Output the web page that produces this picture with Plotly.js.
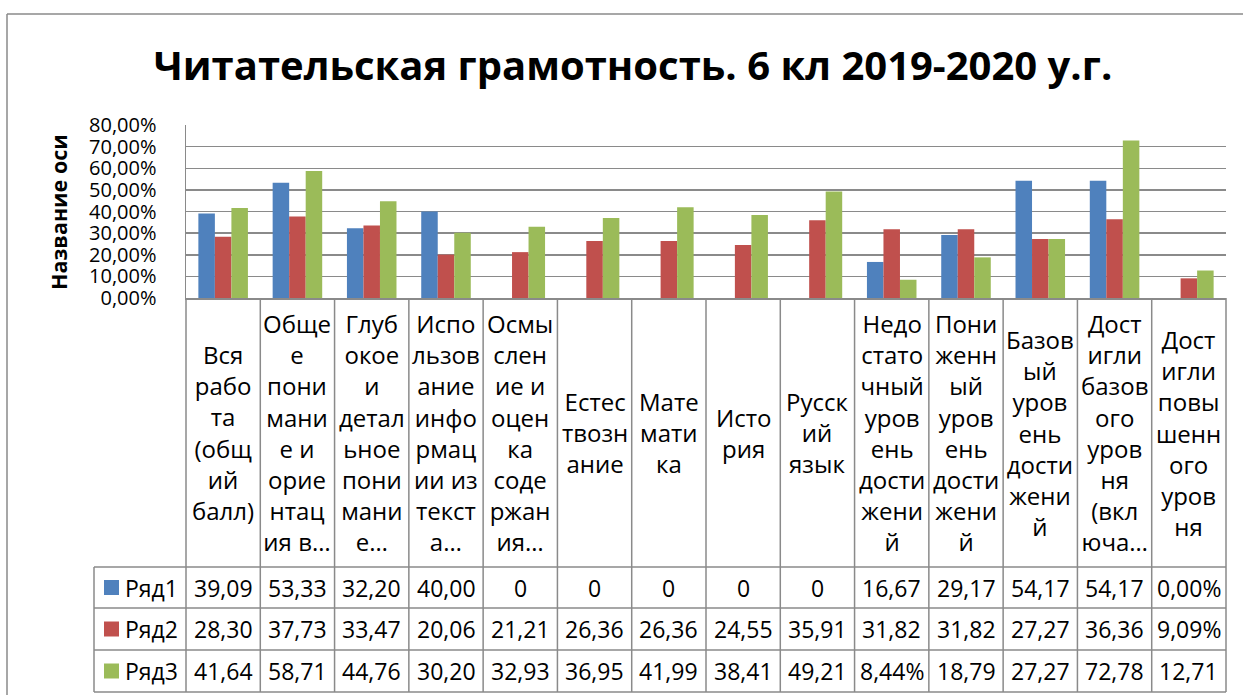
<!DOCTYPE html>
<html>
<head>
<meta charset="utf-8">
<script src="https://cdn.plot.ly/plotly-3.0.1.min.js"></script>
<style>html,body{margin:0;padding:0;background:#fff}#chart{width:1243px;height:695px}</style>
</head>
<body>
<div id="chart"></div>
<script>
// ---- data ----
const categories = [
  'Вся<br>рабо<br>та<br>(общ<br>ий<br>балл)',
  'Обще<br>е<br>пони<br>мани<br>е и<br>орие<br>нтац<br>ия в…',
  'Глуб<br>окое<br>и<br>детал<br>ьное<br>пони<br>мани<br>е…',
  'Испо<br>льзов<br>ание<br>инфо<br>рмац<br>ии из<br>текст<br>а…',
  'Осмы<br>слен<br>ие и<br>оцен<br>ка<br>соде<br>ржан<br>ия…',
  'Естес<br>твозн<br>ание',
  'Мате<br>мати<br>ка',
  'Исто<br>рия',
  'Русск<br>ий<br>язык',
  'Недо<br>стато<br>чный<br>уров<br>ень<br>дости<br>жени<br>й',
  'Пони<br>женн<br>ый<br>уров<br>ень<br>дости<br>жени<br>й',
  'Базов<br>ый<br>уров<br>ень<br>дости<br>жени<br>й',
  'Дост<br>игли<br>базов<br>ого<br>уров<br>ня<br>(вкл<br>юча…',
  'Дост<br>игли<br>повы<br>шенн<br>ого<br>уров<br>ня'
];
const seriesNames = ['Ряд1', 'Ряд2', 'Ряд3'];
const series1 = [39.09, 53.33, 32.20, 40.00, 0, 0, 0, 0, 0, 16.67, 29.17, 54.17, 54.17, 0.00];
const series2 = [28.30, 37.73, 33.47, 20.06, 21.21, 26.36, 26.36, 24.55, 35.91, 31.82, 31.82, 27.27, 36.36, 9.09];
const series3 = [41.64, 58.71, 44.76, 30.20, 32.93, 36.95, 41.99, 38.41, 49.21, 8.44, 18.79, 27.27, 72.78, 12.71];
const tableText1 = ['39,09','53,33','32,20','40,00','0','0','0','0','0','16,67','29,17','54,17','54,17','0,00%'];
const tableText2 = ['28,30','37,73','33,47','20,06','21,21','26,36','26,36','24,55','35,91','31,82','31,82','27,27','36,36','9,09%'];
const tableText3 = ['41,64','58,71','44,76','30,20','32,93','36,95','41,99','38,41','49,21','8,44%','18,79','27,27','72,78','12,71'];
const yTickVals = [0, 10, 20, 30, 40, 50, 60, 70, 80];
const yTickText = ['0,00%','10,00%','20,00%','30,00%','40,00%','50,00%','60,00%','70,00%','80,00%'];
const titleText = 'Читательская грамотность. 6 кл 2019-2020 у.г.';
const yTitleText = 'Название оси';

// ---- styles / geometry ----
const W = 1243, H = 695;
const colors = ['#4F81BD', '#C0504D', '#9BBB59'];
const lineCol = '#8A8A8A';
const FONT = '"Open Sans", "Noto Sans", sans-serif';
const px = x => x / W;
const py = y => 1 - y / H;
const plotL = 186, plotR = 1226, plotT = 125, plotB = 298;
const headerB = 567;
const rowBounds = [567, 608, 650, 692];
const legendL = 94;

const seriesVals = [series1, series2, series3];
const tableTexts = [tableText1, tableText2, tableText3];

const traces = seriesVals.map((vals, s) => ({
  type: 'bar',
  name: seriesNames[s],
  x: categories,
  y: vals,
  marker: { color: colors[s], line: { width: 0 } },
  hoverinfo: 'skip'
}));

const shapes = [];
const annotations = [];
const ln = (x0, y0, x1, y1, xref) => shapes.push({
  type: 'line', xref: xref || 'paper', yref: 'paper',
  x0: x0, y0: y0, x1: x1, y1: y1,
  line: { color: lineCol, width: 1.5 }, layer: 'above'
});

// outer chart border
ln(px(7), py(14), px(1243), py(14));
ln(px(7), py(14), px(7), py(695));

// table vertical lines (category boundaries)
ln(px(plotL), py(plotB), px(plotL), py(rowBounds[3]));
ln(px(plotR), py(plotB), px(plotR), py(rowBounds[3]));
for (let i = 1; i < categories.length; i++) {
  ln(i - 0.5, py(plotB), i - 0.5, py(rowBounds[3]), 'x');
}
// legend column left
ln(px(legendL), py(headerB), px(legendL), py(rowBounds[3]));
// horizontal row lines
rowBounds.forEach(y => ln(px(legendL), py(y), px(plotR), py(y)));

// header labels
categories.forEach((c, i) => annotations.push({
  xref: 'x', yref: 'paper', x: i, y: py((plotB + headerB) / 2),
  text: c, showarrow: false, align: 'center',
  xanchor: 'center', yanchor: 'middle',
  font: { family: FONT, size: 24, color: '#000' }
}));

// table cells + legend keys
for (let s = 0; s < 3; s++) {
  const yc = (rowBounds[s] + rowBounds[s + 1]) / 2;
  tableTexts[s].forEach((t, i) => annotations.push({
    xref: 'x', yref: 'paper', x: i, y: py(yc),
    text: t, showarrow: false, xanchor: 'center', yanchor: 'middle',
    font: { family: FONT, size: 23, color: '#000' }
  }));
  annotations.push({
    xref: 'paper', yref: 'paper', x: px(123), y: py(yc),
    text: seriesNames[s], showarrow: false, xanchor: 'left', yanchor: 'middle',
    font: { family: FONT, size: 23, color: '#000' }
  });
  shapes.push({
    type: 'rect', xref: 'paper', yref: 'paper',
    x0: px(104), x1: px(119), y0: py(yc - 7.5), y1: py(yc + 7.5),
    fillcolor: colors[s], line: { width: 0 }
  });
}

// y axis title
annotations.push({
  xref: 'paper', yref: 'paper', x: px(59), y: py(212),
  text: '<b>' + yTitleText + '</b>', textangle: -90, showarrow: false,
  xanchor: 'center', yanchor: 'middle',
  font: { family: FONT, size: 21.5, color: '#000' }
});

const layout = {
  width: W, height: H,
  margin: { l: 0, r: 0, t: 0, b: 0, pad: 0 },
  paper_bgcolor: '#fff', plot_bgcolor: '#fff',
  showlegend: false,
  barmode: 'group', bargap: 0.333, bargroupgap: 0,
  title: {
    text: '<b>' + titleText + '</b>',
    x: px(633), xanchor: 'center', y: py(66), yanchor: 'middle',
    xref: 'paper', yref: 'paper',
    font: { family: FONT, size: 40, color: '#000' }
  },
  xaxis: {
    domain: [px(plotL), px(plotR)],
    type: 'category',
    showticklabels: false, ticks: '',
    showgrid: false, zeroline: false,
    showline: true, linecolor: lineCol, linewidth: 1.5,
    fixedrange: true
  },
  yaxis: {
    domain: [py(plotB), py(plotT)],
    range: [0, 80],
    tickvals: yTickVals, ticktext: yTickText,
    ticks: '', ticklabelstandoff: 24,
    tickfont: { family: FONT, size: 20, color: '#000' },
    showgrid: true, gridcolor: lineCol, gridwidth: 1.5,
    zeroline: false,
    showline: true, linecolor: lineCol, linewidth: 1.5,
    fixedrange: true
  },
  shapes: shapes,
  annotations: annotations
};

Plotly.newPlot('chart', traces, layout, { displayModeBar: false, staticPlot: true });
</script>
</body>
</html>
